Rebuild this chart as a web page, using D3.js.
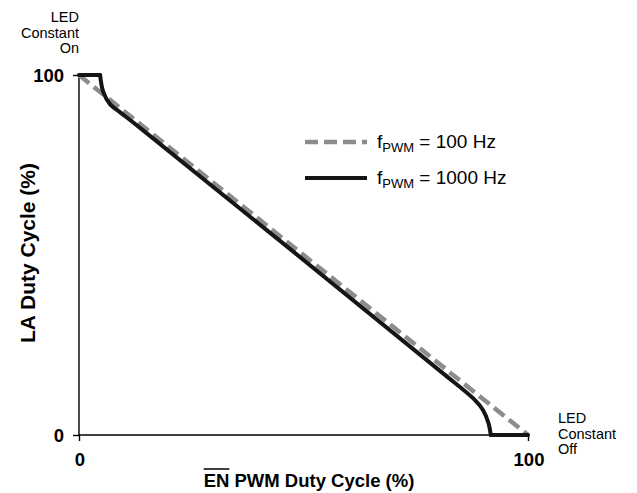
<!DOCTYPE html>
<html><head><meta charset="utf-8">
<script src="https://cdn.jsdelivr.net/npm/d3@7"></script>
<style>
html,body{margin:0;padding:0;background:#fff;}
svg text{font-family:"Liberation Sans",Arial,Helvetica,sans-serif;}
</style></head>
<body>
<svg id="chart" width="637" height="493"></svg>
<script>
// ---- data ----
const xTicks = [0, 100];
const yTicks = [0, 100];
// f_PWM = 100 Hz (dashed)
const dashedX = [0, 100];
const dashedY = [100, 0];
// f_PWM = 1000 Hz (solid)
const solidTopX = [0, 4.7];
const solidTopY = [100, 100];
const solidMidX = [4.7, 5.4, 6.9, 9.1, 13.6, 80.4, 88.2, 90.0, 91.2, 91.7];
const solidMidY = [100, 95.3, 91.9, 89.7, 85.3, 17.8, 9.7, 6.9, 3.3, 0];
const solidBotX = [91.7, 100];
const solidBotY = [0, 0];
const legendLabels = [["f", "PWM", " = 100 Hz"], ["f", "PWM", " = 1000 Hz"]];
const yTitle = "LA Duty Cycle (%)";
const xTitleOver = "EN";
const xTitleRest = " PWM Duty Cycle (%)";
const topNote = ["LED", "Constant", "On"];
const bottomNote = ["LED", "Constant", "Off"];

const svg = d3.select("#chart");
const x = d3.scaleLinear().domain([0, 100]).range([79, 528]);
const y = d3.scaleLinear().domain([0, 100]).range([435, 75]);

// axes
const xAxis = d3.axisBottom(x).tickValues(xTicks).tickSize(6).tickFormat("");
const yAxis = d3.axisLeft(y).tickValues(yTicks).tickSize(6).tickFormat("");
const gx = svg.append("g").attr("transform", `translate(0,${y(0)})`).call(xAxis);
const gy = svg.append("g").attr("transform", `translate(${x(0)},0)`).call(yAxis);
[gx, gy].forEach(g => {
  g.select(".domain").attr("stroke", "#000").attr("stroke-width", 1.4);
  g.selectAll(".tick line").attr("stroke", "#000").attr("stroke-width", 1.4);
});
gx.select(".domain").attr("d", `M${x(0)},0H${x(100)}`);
gy.select(".domain").attr("d", `M0,${y(0)}V${y(100)}`);

// tick labels
svg.append("g").selectAll("text").data(xTicks).join("text")
  .attr("x", d => x(d) + 1).attr("y", 466)
  .attr("text-anchor", "middle").attr("font-size", 18.5).attr("font-weight", "bold")
  .text(d => d);
svg.append("g").selectAll("text").data(yTicks).join("text")
  .attr("x", 64).attr("y", d => y(d) + 7)
  .attr("text-anchor", "end").attr("font-size", 18.5).attr("font-weight", "bold")
  .text(d => d);

// lines
const zip = (a, b) => a.map((d, i) => [d, b[i]]);
const lineL = d3.line().x(d => x(d[0])).y(d => y(d[1]));
const lineC = d3.line().x(d => x(d[0])).y(d => y(d[1])).curve(d3.curveCatmullRom.alpha(0.5));
svg.append("path").datum(zip(dashedX, dashedY)).attr("d", lineL)
  .attr("fill", "none").attr("stroke", "#8c8c8c").attr("stroke-width", 4.5)
  .attr("stroke-dasharray", "13,6");
const solidG = svg.append("g").attr("fill", "none").attr("stroke", "#151515")
  .attr("stroke-width", 4).attr("stroke-linejoin", "round");
solidG.append("path").datum(zip(solidTopX, solidTopY)).attr("d", lineL).attr("stroke-linecap", "round");
solidG.append("path").datum(zip(solidMidX, solidMidY)).attr("d", lineC).attr("stroke-linecap", "round");
solidG.append("path").datum(zip(solidBotX, solidBotY)).attr("d", lineL).attr("stroke-linecap", "round");

// legend
const leg = svg.append("g");
const legY = [142, 178];
leg.append("line").attr("x1", 305).attr("x2", 367).attr("y1", legY[0]).attr("y2", legY[0])
  .attr("stroke", "#8c8c8c").attr("stroke-width", 4.5).attr("stroke-dasharray", "13,6");
leg.append("line").attr("x1", 305).attr("x2", 367).attr("y1", legY[1]).attr("y2", legY[1])
  .attr("stroke", "#151515").attr("stroke-width", 4);
legendLabels.forEach((lab, i) => {
  const t = leg.append("text").attr("x", 377).attr("y", legY[i] + 6).attr("font-size", 19);
  t.append("tspan").text(lab[0]);
  t.append("tspan").attr("font-size", 13).attr("dy", 4).text(lab[1]);
  t.append("tspan").attr("dy", -4).text(lab[2]);
});

// axis titles
svg.append("text").attr("transform", "translate(35,253) rotate(-90)")
  .attr("text-anchor", "middle").attr("font-size", 21).attr("font-weight", "bold")
  .text(yTitle);
const xt = svg.append("text").attr("x", 309).attr("y", 487)
  .attr("text-anchor", "middle").attr("font-size", 18.5).attr("font-weight", "bold");
xt.append("tspan").text(xTitleOver);
xt.append("tspan").text(xTitleRest);
const n = xt.node();
const sx = n.getStartPositionOfChar(0).x;
const ow = n.getSubStringLength(0, xTitleOver.length);
svg.append("line").attr("x1", sx).attr("x2", sx + ow).attr("y1", 469).attr("y2", 469)
  .attr("stroke", "#000").attr("stroke-width", 1.5);

// notes
svg.append("g").selectAll("text").data(topNote).join("text")
  .attr("x", 79).attr("y", (d, i) => 22 + i * 15.5)
  .attr("text-anchor", "end").attr("font-size", 14.5).text(d => d);
svg.append("g").selectAll("text").data(bottomNote).join("text")
  .attr("x", 558).attr("y", (d, i) => 423 + i * 15.5)
  .attr("font-size", 14.5).text(d => d);
</script>
</body></html>
